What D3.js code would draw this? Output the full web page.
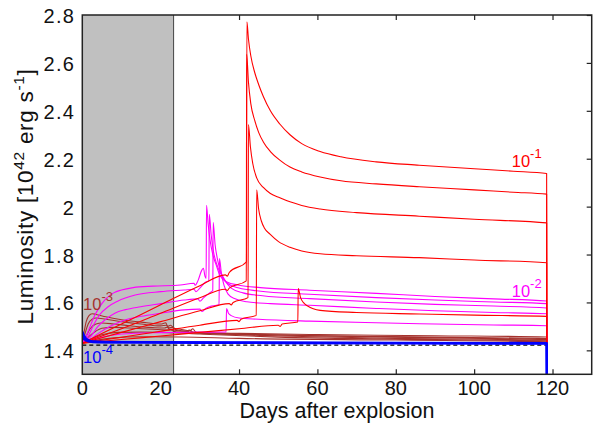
<!DOCTYPE html>
<html><head><meta charset="utf-8">
<script src="https://cdn.jsdelivr.net/npm/d3@7"></script>
<style>
html,body{margin:0;padding:0;background:#fff;}
svg{display:block;font-family:"Liberation Sans",Arial,Helvetica,sans-serif;}
</style></head>
<body>
<svg id="chart" width="593" height="426"></svg>
<script>
// ---------- data ----------
const xTicks = [0, 20, 40, 60, 80, 100, 120];
const yTicks = [1.4, 1.6, 1.8, 2.0, 2.2, 2.4, 2.6, 2.8];
const yTickLabels = ["1.4", "1.6", "1.8", "2", "2.2", "2.4", "2.6", "2.8"];
const xDomain = [0, 130];
const yDomain = [1.3, 2.8];
const grayEnd = 23.3;

// red family (10^-1)
const red1 = [[0,1.43],[10,1.51],[20,1.59],[30,1.67],[36.5,1.715],[37,1.71],[37.5,1.725],[41.9,1.77],[42.0,2.772],[42.4,2.70],[43,2.63],[44,2.56],[45,2.51],[46.2,2.46],[48,2.40],[50.4,2.345],[53,2.30],[56,2.263],[60.7,2.23],[66,2.208],[75,2.187],[86,2.173],[100,2.158],[110,2.148],[118.5,2.138],[118.55,1.3]];
const red2 = [[0,1.43],[10,1.49],[20,1.555],[30,1.62],[36.5,1.655],[37,1.65],[37.5,1.66],[41.85,1.69],[41.95,2.636],[42.4,2.52],[43,2.43],[44,2.36],[45,2.31],[46.2,2.27],[48,2.23],[50.4,2.194],[53,2.165],[56,2.145],[60.7,2.124],[66,2.108],[75,2.095],[86,2.083],[100,2.07],[110,2.06],[118.5,2.052],[118.55,1.3]];
const red3 = [[0,1.43],[10,1.475],[20,1.52],[30,1.565],[37.5,1.595],[38,1.59],[38.5,1.60],[42.3,1.62],[42.4,2.343],[42.9,2.25],[43.5,2.18],[44.5,2.12],[46.2,2.08],[48,2.055],[50.4,2.037],[53,2.02],[56,2.005],[60.7,1.99],[70,1.975],[86,1.96],[100,1.947],[118.5,1.932],[118.55,1.3]];
const red4 = [[0,1.43],[10,1.455],[20,1.48],[30,1.505],[39.5,1.525],[40,1.52],[40.5,1.53],[44.4,1.546],[44.5,2.07],[45,1.99],[45.7,1.94],[46.5,1.91],[47.9,1.885],[50,1.855],[53,1.83],[56,1.815],[60.7,1.803],[70,1.795],[86,1.787],[100,1.777],[118.5,1.766],[118.55,1.3]];
const red5 = [[0,1.43],[10,1.445],[20,1.46],[30,1.475],[40,1.49],[50,1.505],[50.5,1.50],[51,1.51],[55,1.518],[55.1,1.658],[55.7,1.62],[56.4,1.60],[57.5,1.585],[60.7,1.567],[70,1.558],[86,1.552],[100,1.547],[118.5,1.542],[118.55,1.3]];

// magenta family (10^-2)
const mag1 = [[0,1.43],[1,1.46],[2,1.50],[3,1.54],[4,1.57],[5,1.595],[6,1.615],[8,1.64],[10,1.652],[13,1.662],[18,1.668],[25,1.673],[28.5,1.68],[28.8,1.672],[29.5,1.69],[30.5,1.735],[30.9,1.743],[31.3,1.71],[31.6,1.70],[31.7,2.006],[32.1,1.93],[32.6,1.86],[33.3,1.80],[34.2,1.755],[35.2,1.71],[36.9,1.685],[40,1.672],[45.4,1.662],[58,1.651],[75,1.638],[90,1.625],[105,1.615],[118.5,1.606],[118.55,1.3]];
const mag2 = [[0,1.43],[1.5,1.46],[3,1.51],[4.5,1.55],[6.6,1.582],[9,1.605],[13.5,1.631],[20,1.645],[26,1.652],[28.5,1.655],[29,1.645],[30,1.66],[31.5,1.685],[32.3,1.69],[32.4,1.968],[32.9,1.88],[33.5,1.81],[34.3,1.76],[35.5,1.715],[37,1.68],[40,1.66],[45,1.648],[58,1.634],[75,1.62],[90,1.61],[105,1.602],[118.5,1.595],[118.55,1.3]];
const mag3 = [[0,1.43],[2,1.455],[4,1.50],[6,1.53],[8.3,1.555],[11,1.57],[14.9,1.582],[20,1.595],[26,1.61],[29.5,1.615],[30,1.605],[31,1.62],[32.5,1.64],[33.3,1.65],[33.4,1.934],[33.9,1.84],[34.5,1.78],[35.3,1.73],[36.5,1.69],[38,1.66],[41,1.64],[46,1.628],[58,1.616],[75,1.602],[90,1.592],[105,1.585],[118.5,1.577],[118.55,1.3]];
const mag4 = [[0,1.43],[2,1.445],[4,1.47],[7,1.50],[10.9,1.527],[15,1.542],[20,1.555],[26,1.569],[30,1.572],[30.5,1.562],[31.5,1.575],[33,1.585],[34.9,1.59],[35,1.783],[35.5,1.72],[36.2,1.67],[37.2,1.635],[39,1.615],[42,1.603],[48,1.595],[58,1.588],[75,1.575],[90,1.565],[105,1.558],[118.5,1.553],[118.55,1.3]];
const mag5 = [[0,1.43],[2,1.44],[5,1.455],[10,1.468],[20,1.474],[30,1.476],[36.7,1.477],[36.8,1.575],[37.3,1.555],[38,1.545],[40,1.535],[45,1.53],[58,1.522],[75,1.515],[90,1.51],[105,1.506],[118.5,1.503],[118.55,1.3]];

// brown family (10^-3)
const brown1 = [[0,1.43],[0.5,1.48],[1,1.52],[1.7,1.545],[2.5,1.553],[3.5,1.55],[6,1.54],[10,1.528],[15,1.518],[20,1.51],[21.3,1.515],[21.8,1.50],[22.5,1.505],[23.5,1.492],[25,1.488],[27.5,1.482],[28.2,1.49],[29,1.476],[32,1.474],[40,1.471],[60,1.466],[90,1.461],[118.5,1.456],[118.55,1.3]];
const brown2 = [[0,1.43],[0.7,1.47],[1.5,1.51],[2.5,1.53],[3.5,1.535],[6,1.53],[10,1.52],[15,1.51],[20,1.502],[21.5,1.505],[22,1.494],[23,1.496],[24,1.486],[26.5,1.481],[27.3,1.485],[28,1.476],[32,1.472],[40,1.468],[60,1.461],[90,1.455],[118.5,1.449],[118.55,1.3]];
const brown3 = [[0,1.43],[1,1.46],[2,1.49],[3.5,1.51],[5,1.514],[8,1.51],[12,1.503],[18,1.495],[21,1.493],[21.7,1.497],[22.3,1.487],[24,1.483],[27,1.479],[27.6,1.483],[28.2,1.475],[35,1.47],[50,1.464],[80,1.455],[118.5,1.445],[118.55,1.3]];
const brown4 = [[0,1.43],[1.5,1.455],[3,1.475],[5,1.492],[8,1.496],[12,1.493],[18,1.488],[22,1.485],[22.6,1.488],[23.2,1.48],[26,1.476],[35,1.468],[50,1.46],[80,1.45],[118.5,1.442],[118.55,1.3]];
const brown5 = [[0,1.43],[2,1.445],[5,1.465],[9,1.475],[15,1.476],[22,1.474],[30,1.468],[50,1.455],[80,1.447],[118.5,1.439],[118.55,1.3]];
const brown6 = [[0,1.43],[3,1.44],[8,1.452],[15,1.457],[25,1.456],[40,1.45],[80,1.443],[118.5,1.436],[118.55,1.3]];

// blue family (10^-4)
const blue1 = [[0,1.478],[0.5,1.46],[1,1.448],[2,1.44],[3,1.437],[6,1.435],[20,1.434],[60,1.432],[118.5,1.43],[118.55,1.3]];
const blue2 = [[0,1.46],[0.5,1.447],[1.5,1.438],[4,1.434],[30,1.432],[118.5,1.428],[118.55,1.3]];

// reference (dashed)
const dashedRef = [[0,1.422],[118.5,1.422],[118.55,1.3]];

const seriesLabels = [
  {base:"10", exp:"-1", day:109.6, lum:2.167, color:"#ff0000"},
  {base:"10", exp:"-2", day:109.6, lum:1.624, color:"#ff00ff"},
  {base:"10", exp:"-3", day:0.2,   lum:1.568, color:"#a5322d"},
  {base:"10", exp:"-4", day:0.2,   lum:1.347, color:"#0000ff"}
];

// ---------- drawing ----------
const svg = d3.select("#chart");
const margin = {left:82.3, right:591.7, top:15, bottom:374.3};
const x = d3.scaleLinear().domain(xDomain).range([margin.left, margin.right]);
const y = d3.scaleLinear().domain(yDomain).range([margin.bottom, margin.top]);

svg.append("defs").append("clipPath").attr("id","clip")
  .append("rect").attr("x",margin.left).attr("y",margin.top)
  .attr("width",margin.right-margin.left).attr("height",margin.bottom-margin.top);

const tickLen = 5;
const axisG = svg.append("g");
axisG.append("g").attr("transform",`translate(0,${margin.bottom})`)
  .call(d3.axisBottom(x).tickValues(xTicks).tickSize(-tickLen).tickFormat(""))
  .call(g=>g.select(".domain").remove());
axisG.append("g").attr("transform",`translate(0,${margin.top})`)
  .call(d3.axisTop(x).tickValues(xTicks).tickSize(-tickLen).tickFormat(""))
  .call(g=>g.select(".domain").remove());
axisG.append("g").attr("transform",`translate(${margin.right},0)`)
  .call(d3.axisRight(y).tickValues(yTicks).tickSize(-tickLen).tickFormat(""))
  .call(g=>g.select(".domain").remove());
axisG.selectAll(".tick line").attr("stroke","#222").attr("stroke-width",1.2);

// gray shaded region
svg.append("rect")
  .attr("x", x(0)).attr("y", margin.top)
  .attr("width", x(grayEnd)-x(0)).attr("height", margin.bottom-margin.top)
  .attr("fill","#c0c0c0");
svg.append("line")
  .attr("x1", x(grayEnd)).attr("x2", x(grayEnd))
  .attr("y1", margin.top).attr("y2", margin.bottom)
  .attr("stroke","#444").attr("stroke-width",1);

const line = d3.line().x(d=>x(d[0])).y(d=>y(d[1])).curve(d3.curveMonotoneX);
const plotG = svg.append("g").attr("clip-path","url(#clip)");

function draw(data, color, width, dash){
  const p = plotG.append("path").datum(data)
    .attr("d", line).attr("fill","none")
    .attr("stroke", color).attr("stroke-width", width)
    .attr("stroke-linejoin","round");
  if (dash) p.attr("stroke-dasharray", dash);
}

[brown6, brown5, brown4, brown3, brown2, brown1].forEach(s=>draw(s,"#a5322d",1.1));
[mag5, mag4, mag3, mag2, mag1].forEach(s=>draw(s,"#ff00ff",1.1));
[red5, red4, red3, red2, red1].forEach(s=>draw(s,"#ff0000",1.1));
draw(dashedRef, "#000", 1.3, "4,3");
[blue2, blue1].forEach(s=>draw(s,"#0000ff",2.4));

// frame
svg.append("rect")
  .attr("x", margin.left).attr("y", margin.top)
  .attr("width", margin.right-margin.left).attr("height", margin.bottom-margin.top)
  .attr("fill","none").attr("stroke","#222").attr("stroke-width",1.5);

// tick labels
svg.append("g").selectAll("text").data(xTicks).join("text")
  .attr("x", d=>x(d)).attr("y", 394.5)
  .attr("text-anchor","middle").attr("font-size",20).attr("fill","#111")
  .text(d=>d);
svg.append("g").selectAll("text").data(yTicks).join("text")
  .attr("x", 75).attr("y", d=>y(d)+1)
  .attr("text-anchor","end").attr("dominant-baseline","central")
  .attr("font-size",20).attr("letter-spacing",1.2).attr("fill","#111")
  .text((d,i)=>yTickLabels[i]);

// axis titles
svg.append("text")
  .attr("x", (margin.left+margin.right)/2).attr("y", 417.5)
  .attr("text-anchor","middle").attr("font-size",21.5).attr("fill","#111")
  .text("Days after explosion");

const yl = svg.append("text")
  .attr("transform","translate(33,196.5) rotate(-90)")
  .attr("text-anchor","middle").attr("font-size",22.5).attr("letter-spacing",0.7).attr("fill","#111");
yl.append("tspan").text("Luminosity [10");
yl.append("tspan").attr("font-size",15.5).attr("dy",-9).text("42");
yl.append("tspan").attr("dy",9).text(" erg s");
yl.append("tspan").attr("font-size",15.5).attr("dy",-9).text("-1");
yl.append("tspan").attr("dy",9).text("]");

// series labels
seriesLabels.forEach(l=>{
  const t = svg.append("text")
    .attr("x", x(l.day)).attr("y", y(l.lum))
    .attr("font-size",16.5).attr("fill",l.color);
  t.append("tspan").text(l.base);
  t.append("tspan").attr("font-size",13).attr("dy",-9).text(l.exp);
});
</script>
</body></html>
